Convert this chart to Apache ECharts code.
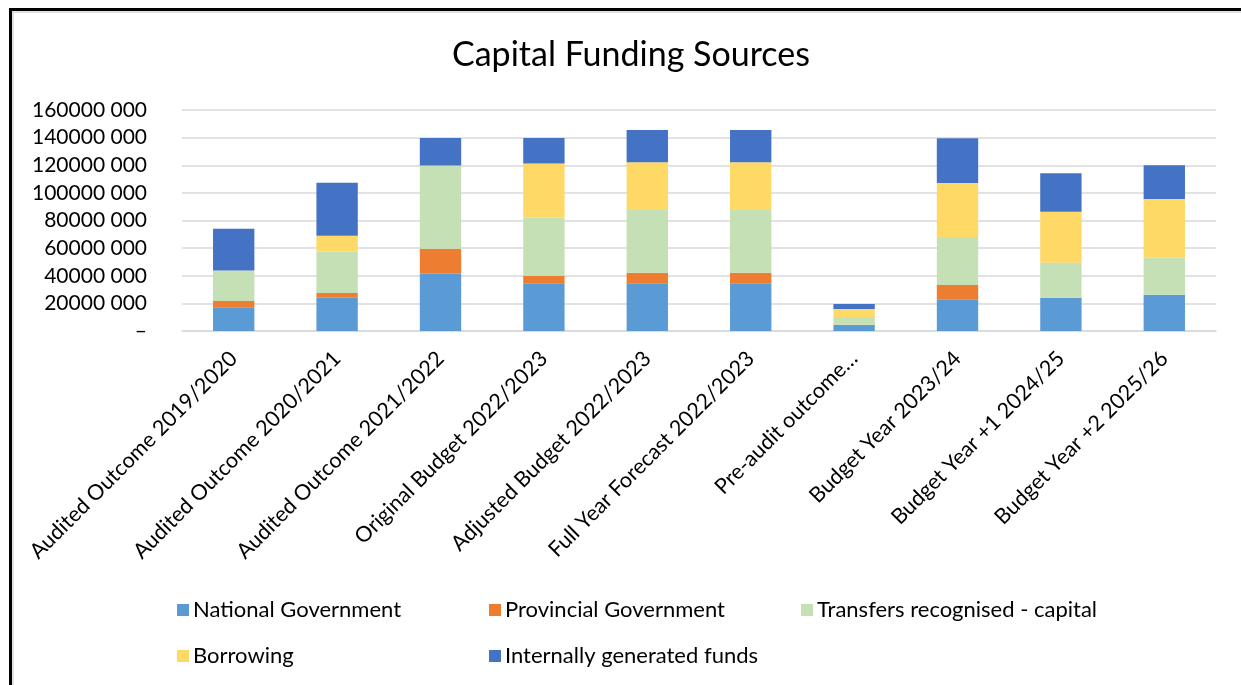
<!DOCTYPE html>
<html>
<head>
<meta charset="utf-8">
<title>Capital Funding Sources</title>
<script src="https://cdn.jsdelivr.net/npm/echarts@6/dist/echarts.min.js"></script>
<style>
  html, body { margin: 0; padding: 0; background: #fff; }
  #chart { width: 1241px; height: 685px; }
</style>
</head>
<body>
<div id="chart"></div>
<script>
// Categories (fiscal periods) shown on the x axis
const categories = [
  'Audited Outcome 2019/2020',
  'Audited Outcome 2020/2021',
  'Audited Outcome 2021/2022',
  'Original Budget 2022/2023',
  'Adjusted Budget 2022/2023',
  'Full Year Forecast 2022/2023',
  'Pre-audit outcome…',
  'Budget Year 2023/24',
  'Budget Year +1 2024/25',
  'Budget Year +2 2025/26'
];

// Funding source amounts (Rand), one value per category
const nationalGovernment   = [17200000, 24100000, 41500000, 34500000, 34500000, 34500000, 4300000, 23000000, 24100000, 26300000];
const provincialGovernment = [ 4600000,  3400000, 18100000,  5500000,  7700000,  7700000,  300000, 10300000,        0,        0];
const transfersCapital     = [22000000, 29900000, 60200000, 42100000, 45400000, 45400000, 5500000, 34800000, 25400000, 26800000];
const borrowing            = [       0, 11600000,        0, 39100000, 34500000, 34500000, 5800000, 39100000, 36900000, 42500000];
const internalFunds        = [30200000, 38400000, 20000000, 18600000, 23400000, 23400000, 3700000, 32300000, 27800000, 24400000];

// Y axis tick range
const yMin = 0;
const yMax = 160000000;
const yStep = 20000000;

const seriesNames = [
  'National Government',
  'Provincial Government',
  'Transfers recognised - capital',
  'Borrowing',
  'Internally generated funds'
];
const seriesData = [nationalGovernment, provincialGovernment, transfersCapital, borrowing, internalFunds];
const seriesColors = ['#5B9BD5', '#ED7D31', '#C5E0B4', '#FFD966', '#4472C4'];

// legend grid: three columns, two rows
const legendCols = [172, 484, 796];
const legendRows = [594, 640];

const FONT = 'Lato, "Open Sans", sans-serif';

function formatAmount(v) {
  if (v === 0) return '–';
  const head = Math.floor(v / 1000);
  const tail = String(v % 1000).padStart(3, '0');
  return head + ' ' + tail;
}

const chart = echarts.init(document.getElementById('chart'), null, { renderer: 'canvas' });

const legends = seriesNames.map((name, i) => ({
  data: [name],
  left: legendCols[i % 3],
  top: legendRows[Math.floor(i / 3)],
  icon: 'rect',
  itemWidth: 12,
  itemHeight: 12,
  itemGap: 6,
  selectedMode: false,
  textStyle: { fontFamily: FONT, fontSize: 22, color: '#000', padding: [0, 0, 0, -1] }
}));

const option = {
  backgroundColor: '#fff',
  animation: false,
  title: {
    text: 'Capital Funding Sources',
    left: 447,
    top: 33,
    textStyle: { fontFamily: FONT, fontSize: 34, fontWeight: 'normal', color: '#000' }
  },
  legend: legends,
  grid: {
    left: 182,
    right: 25,
    top: 110,
    bottom: 354,
    containLabel: false
  },
  xAxis: {
    type: 'category',
    data: categories,
    axisTick: { show: false },
    axisLine: { lineStyle: { color: '#D9D9D9', width: 1.5 } },
    axisLabel: {
      rotate: 45,
      interval: 0,
      margin: 24,
      fontFamily: FONT,
      fontSize: 21.5,
      color: '#000'
    }
  },
  yAxis: {
    type: 'value',
    min: yMin,
    max: yMax,
    interval: yStep,
    axisLine: { show: false },
    axisTick: { show: false },
    splitLine: { lineStyle: { color: '#D9D9D9', width: 1.5 } },
    axisLabel: {
      margin: 35,
      fontFamily: FONT,
      fontSize: 21,
      color: '#000',
      formatter: formatAmount
    }
  },
  series: seriesNames.map((name, i) => ({
    name: name,
    type: 'bar',
    stack: 'total',
    barWidth: '40%',
    data: seriesData[i],
    itemStyle: { color: seriesColors[i] },
    emphasis: { disabled: true }
  })),
  graphic: [
    // frame around the chart area (top and left edges)
    { type: 'line', shape: { x1: 9, y1: 12, x2: 1241, y2: 12 }, style: { stroke: '#E0E0E0', lineWidth: 2 }, silent: true },
    { type: 'line', shape: { x1: 13, y1: 9, x2: 13, y2: 685 }, style: { stroke: '#E0E0E0', lineWidth: 2 }, silent: true },
    { type: 'line', shape: { x1: 9, y1: 9.5, x2: 1241, y2: 9.5 }, style: { stroke: '#000', lineWidth: 3 }, silent: true },
    { type: 'line', shape: { x1: 10.5, y1: 8, x2: 10.5, y2: 685 }, style: { stroke: '#000', lineWidth: 3 }, silent: true }
  ]
};

chart.setOption(option);
</script>
</body>
</html>
